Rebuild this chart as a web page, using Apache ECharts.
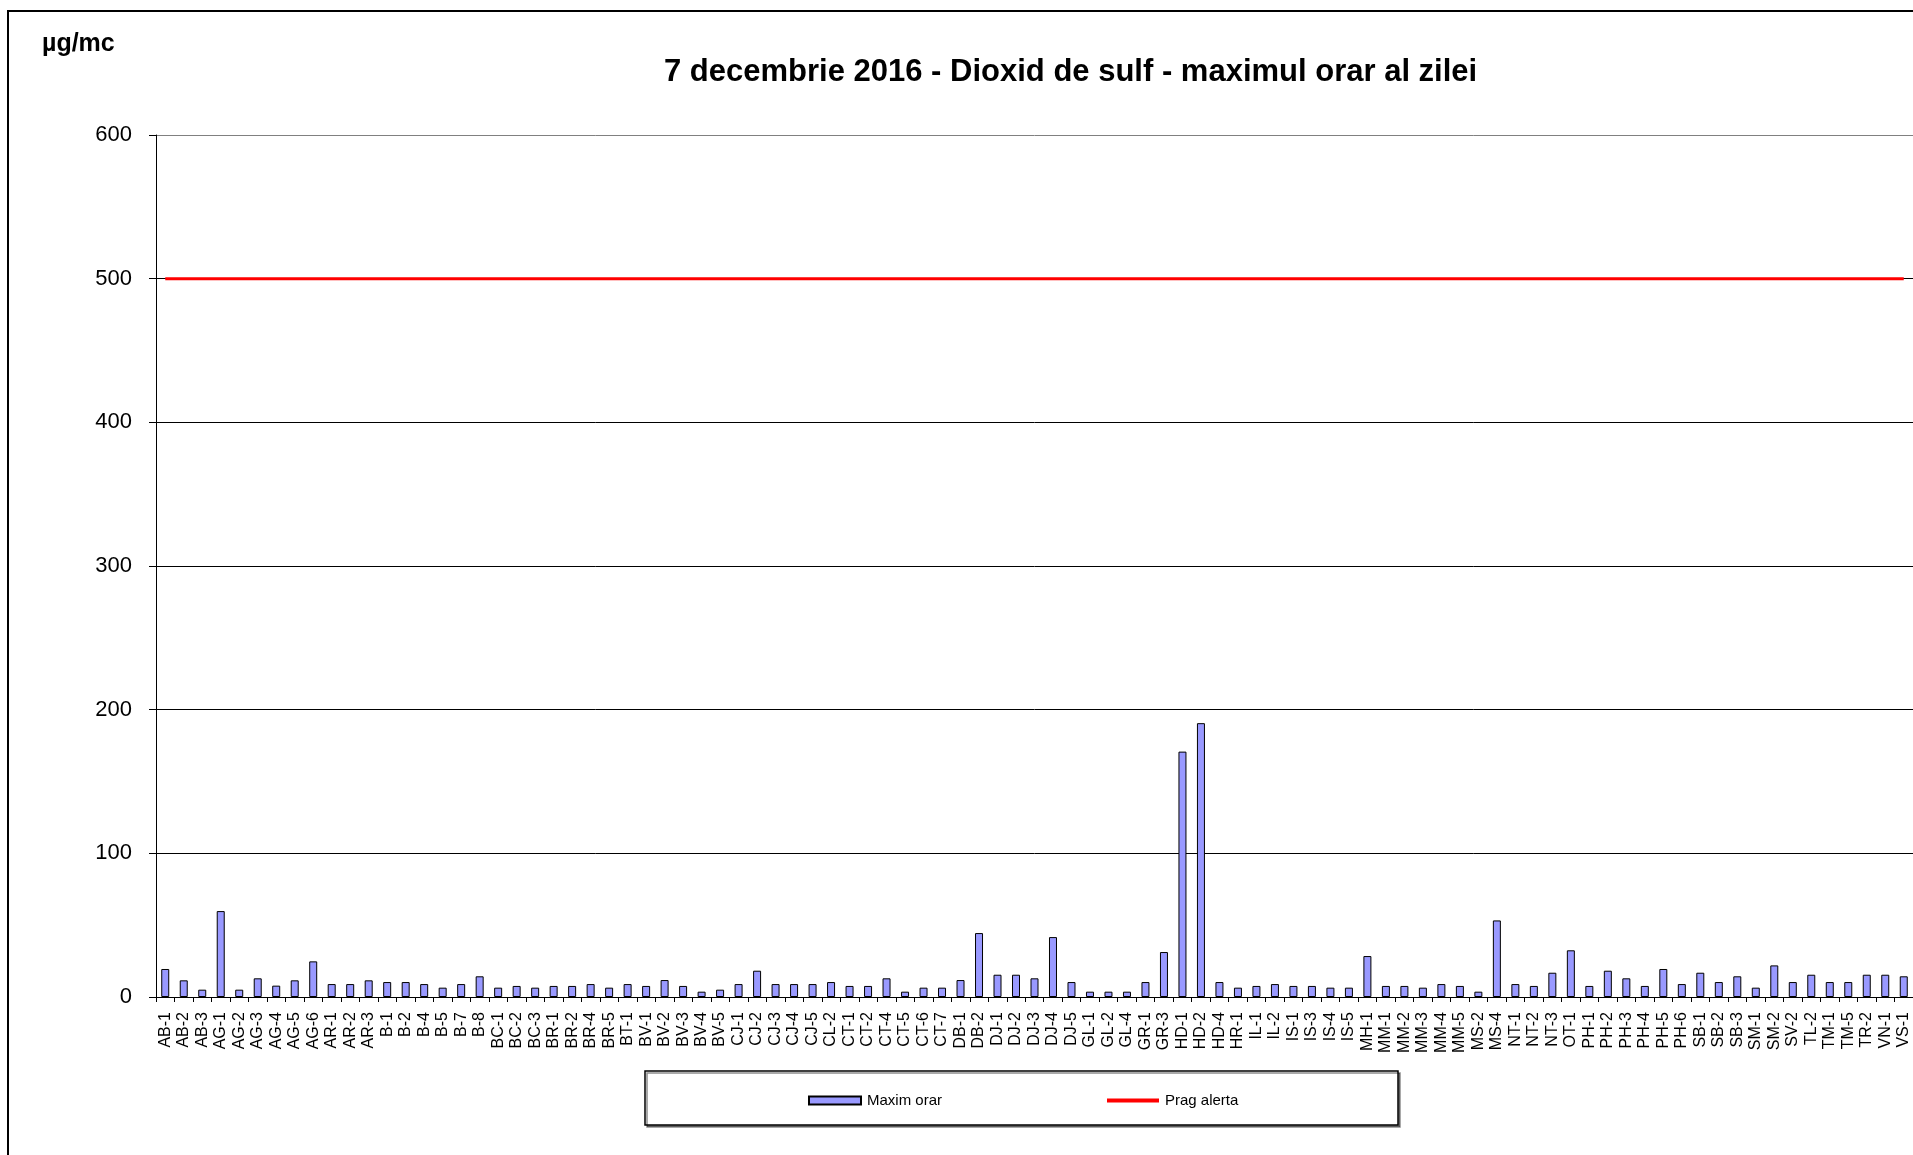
<!DOCTYPE html>
<html>
<head>
<meta charset="utf-8">
<script src="https://cdn.jsdelivr.net/npm/echarts@6/dist/echarts.min.js"></script>
<style>
html,body{margin:0;padding:0;background:#fff;}
#chart{width:1913px;height:1155px;}
</style>
</head>
<body>
<div id="chart"></div>
<script>
const categories = [
 'AB-1','AB-2','AB-3','AG-1','AG-2','AG-3','AG-4','AG-5','AG-6','AR-1','AR-2','AR-3','B-1','B-2','B-4','B-5','B-7','B-8','BC-1',
 'BC-2','BC-3','BR-1','BR-2','BR-4','BR-5','BT-1','BV-1','BV-2','BV-3','BV-4','BV-5','CJ-1','CJ-2','CJ-3','CJ-4','CJ-5','CL-2','CT-1',
 'CT-2','CT-4','CT-5','CT-6','CT-7','DB-1','DB-2','DJ-1','DJ-2','DJ-3','DJ-4','DJ-5','GL-1','GL-2','GL-4','GR-1','GR-3','HD-1','HD-2',
 'HD-4','HR-1','IL-1','IL-2','IS-1','IS-3','IS-4','IS-5','MH-1','MM-1','MM-2','MM-3','MM-4','MM-5','MS-2','MS-4','NT-1','NT-2','NT-3',
 'OT-1','PH-1','PH-2','PH-3','PH-4','PH-5','PH-6','SB-1','SB-2','SB-3','SM-1','SM-2','SV-2','TL-2','TM-1','TM-5','TR-2','VN-1','VS-1'
];
const maximOrar = [
 19.5,11.6,5.1,59.8,5.1,13,7.9,11.6,24.8,9,9,11.6,10.4,10.4,9,6.5,9,14.4,6.5,
 7.7,6.5,7.7,7.7,9,6.5,9,7.7,11.8,7.7,3.7,5.1,9,18.3,9,9,9,10.4,7.7,
 7.7,13,3.7,6.5,6.5,11.8,44.5,15.5,15.5,13,41.7,10.4,3.7,3.7,3.7,10.4,31.3,170.8,190.6,
 10.4,6.5,7.7,9,7.7,7.7,6.5,6.5,28.5,7.7,7.7,6.5,9,7.7,3.7,53.3,9,7.7,16.9,
 32.5,7.7,18.3,13,7.7,19.5,9,16.9,10.4,14.4,6.5,22,10.4,15.5,10.4,10.4,15.5,15.5,14.4
];
const PRAG_ALERTA = 500;
const pragAlerta = categories.map(() => PRAG_ALERTA);
const yTicks = [0, 100, 200, 300, 400, 500, 600];

const FONT = '"Liberation Sans", Arial, sans-serif';
const chart = echarts.init(document.getElementById('chart'), null, {renderer: 'canvas'});
chart.setOption({
  animation: false,
  backgroundColor: '#ffffff',
  textStyle: {fontFamily: FONT},
  title: {
    text: '7 decembrie 2016 - Dioxid de sulf - maximul orar al zilei',
    left: 664, top: 57, padding: 0,
    textStyle: {fontFamily: FONT, fontSize: 31, fontWeight: 'bold', color: '#000'}
  },
  graphic: [
    {type: 'rect', shape: {x: 8, y: 11, width: 2100, height: 2100}, style: {fill: 'none', stroke: '#000', lineWidth: 2}, z: 0, silent: true},
    {type: 'text', left: 42, top: 32, style: {text: 'µg/mc', font: 'bold 25px ' + FONT, fill: '#000'}},
    {type: 'rect', shape: {x: 645, y: 1071, width: 753, height: 54}, style: {fill: '#fff', stroke: '#000', lineWidth: 1.5, shadowColor: 'rgba(0,0,0,0.45)', shadowOffsetX: 2, shadowOffsetY: 2, shadowBlur: 0}, z: 1, silent: true}
  ],
  legend: [
    {data: [{name: 'Maxim orar', icon: 'rect'}], left: 808, top: 1093, itemWidth: 52, itemHeight: 8, itemGap: 0, padding: 0, z: 5,
     textStyle: {fontFamily: FONT, fontSize: 15, color: '#000', padding: [0,0,0,1]}},
    {data: [{name: 'Prag alerta', icon: 'rect', itemStyle: {color: '#FF0000', borderWidth: 0}}], left: 1107, top: 1093, itemWidth: 52, itemHeight: 4, itemGap: 0, padding: 0, z: 5,
     textStyle: {fontFamily: FONT, fontSize: 15, color: '#000', padding: [0,0,0,1]}}
  ],
  grid: {left: 156, right: 0, top: 135, bottom: 158, containLabel: false},
  xAxis: {
    type: 'category',
    data: categories,
    boundaryGap: true,
    axisLine: {lineStyle: {color: '#000', width: 1}},
    axisTick: {show: true, length: 5, interval: 0, lineStyle: {color: '#000'}},
    axisLabel: {rotate: 90, interval: 0, margin: 15, fontSize: 16, color: '#000', fontFamily: FONT},
    splitLine: {show: false}
  },
  yAxis: {
    type: 'value',
    min: 0, max: 600, interval: 100,
    axisLine: {show: true, lineStyle: {color: '#000', width: 1}},
    axisTick: {show: true, length: 7, lineStyle: {color: '#000'}},
    axisLabel: {margin: 24, fontSize: 22, color: '#000', fontFamily: FONT,
      formatter: v => yTicks.includes(v) ? String(v) : ''},
    splitLine: {show: true, lineStyle: {color: ['#000','#000','#000','#000','#000','#000','#808080'], width: 1}}
  },
  series: [
    {
      name: 'Maxim orar', type: 'bar', data: maximOrar, barWidth: 8,
      itemStyle: {color: '#9999FF', borderColor: '#000', borderWidth: 1}
    },
    {
      name: 'Prag alerta', type: 'line', data: pragAlerta, symbol: 'none', showSymbol: false,
      lineStyle: {color: '#FF0000', width: 3}, itemStyle: {color: '#FF0000'}, z: 3
    }
  ]
});
</script>
</body>
</html>
